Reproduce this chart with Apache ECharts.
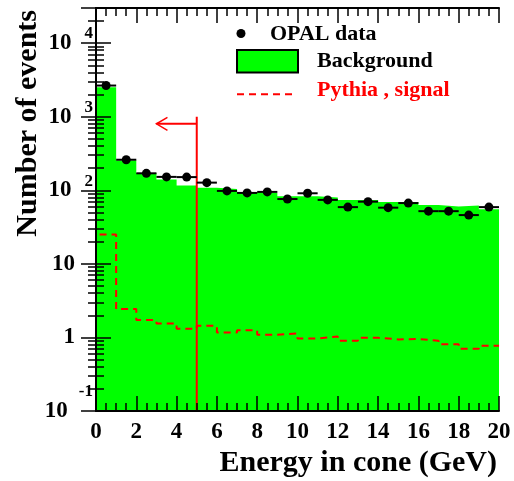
<!DOCTYPE html>
<html>
<head>
<meta charset="utf-8">
<script src="https://cdn.jsdelivr.net/npm/echarts@6/dist/echarts.min.js"></script>
<style>
html, body { margin: 0; padding: 0; background: #fff; }
#chart { width: 514px; height: 481px; }
</style>
</head>
<body>
<div id="chart"></div>
<script>
var mychart = echarts.init(document.getElementById('chart'));

// bin edges of the energy histogram (GeV)
var binEdges = [0, 1, 2, 3, 4, 5, 6, 7, 8, 9, 10, 11, 12, 13, 14, 15, 16, 17, 18, 19, 20];
// events per bin
var opalData = [2650, 260, 170, 152, 151, 127, 98, 92, 95, 76, 91, 74, 59, 70, 58, 67, 52, 52, 46, 59];
var background = [2520, 254, 172, 140, 116, 108, 104, 95, 92, 83, 83, 80, 74, 74, 69, 69, 63, 60, 62, 55];
var pythiaSignal = [25, 2.43, 1.72, 1.55, 1.31, 1.44, 1.17, 1.25, 1.09, 1.13, 0.97, 1.03, 0.90, 0.99, 0.94, 0.95, 0.90, 0.81, 0.70, 0.77];
// cut at 5 GeV, arrow pointing to the kept region
var cutEnergy = 5;
var cutLineTop = 1000;
var arrowEnd = 3;
var arrowLevel = 800;

var yMin = 0.1, yMax = 30000;
var font = "'Liberation Serif', 'Times New Roman', serif";

function stepPoints(vals, startFromMin) {
    var pts = [];
    if (startFromMin) pts.push([binEdges[0], yMin]);
    vals.forEach(function (v, i) { pts.push([binEdges[i], v]); });
    pts.push([binEdges[vals.length], vals[vals.length - 1]]);
    return pts;
}

var dataPoints = opalData.map(function (v, i) {
    return [(binEdges[i] + binEdges[i + 1]) / 2, v, binEdges[i], binEdges[i + 1]];
});

function yLabel(v) {
    var l = Math.log10(v);
    var e = Math.round(l);
    if (Math.abs(l - e) > 1e-6) return '';
    if (e === 0) return '{p|1}';
    if (e === 1) return '{p|10}';
    if (e < 0) return '{b|10}{n|' + e + '}';
    return '{b|10}{s|' + e + '}';
}

var tickLine = { color: '#000', width: 1.5 };

option = {
    backgroundColor: '#fff',
    animation: false,
    textStyle: { fontFamily: font, fontWeight: 'bold', color: '#000' },
    grid: { left: 96, right: 15, top: 8, height: 403 },
    xAxis: [
        {
            type: 'value', min: 0, max: 20, interval: 2, z: 5,
            axisLine: { lineStyle: { color: '#000', width: 2 } },
            axisTick: { inside: true, length: 15, lineStyle: tickLine },
            minorTick: { show: true, splitNumber: 4, length: 8, lineStyle: tickLine },
            splitLine: { show: false },
            axisLabel: { fontSize: 23, fontWeight: 'bold', fontFamily: font, color: '#000', margin: 10 },
            name: 'Energy in cone (GeV)',
            nameLocation: 'end',
            nameGap: -2,
            nameTextStyle: { fontSize: 30, fontWeight: 'bold', fontFamily: font, color: '#000',
                align: 'right', verticalAlign: 'top', padding: [37, 0, 0, 0] }
        },
        {
            type: 'value', position: 'top', min: 0, max: 20, interval: 2, z: 5,
            axisLine: { lineStyle: { color: '#000', width: 2 } },
            axisTick: { inside: true, length: 15, lineStyle: tickLine },
            minorTick: { show: true, splitNumber: 4, length: 8, lineStyle: tickLine },
            splitLine: { show: false },
            axisLabel: { show: false }
        }
    ],
    yAxis: [
        {
            type: 'log', logBase: 10, min: yMin, max: yMax, z: 5,
            axisLine: { show: true, lineStyle: { color: '#000', width: 2 } },
            axisTick: { show: true, inside: true, length: 15, lineStyle: tickLine },
            minorTick: { show: true, splitNumber: 9, length: 8, lineStyle: tickLine },
            splitLine: { show: false },
            axisLabel: {
                margin: 3,
                formatter: yLabel,
                rich: {
                    p: { fontSize: 23, fontWeight: 'bold', fontFamily: font, color: '#000', padding: [0, 18, 0, 0] },
                    b: { fontSize: 23, fontWeight: 'bold', fontFamily: font, color: '#000' },
                    s: { fontSize: 17, fontWeight: 'bold', fontFamily: font, color: '#000', padding: [0, 0, 18, 13] },
                    n: { fontSize: 17, fontWeight: 'bold', fontFamily: font, color: '#000', padding: [0, 0, 38, 11] }
                }
            },
            name: 'Number of events',
            nameLocation: 'end',
            nameRotate: 90,
            nameGap: -2,
            nameTextStyle: { fontSize: 30, fontWeight: 'bold', fontFamily: font, color: '#000',
                align: 'right', verticalAlign: 'bottom', padding: [0, 0, 53, 0] }
        },
        {
            type: 'log', logBase: 10, min: yMin, max: yMax, position: 'right', z: 5,
            axisLine: { show: true, lineStyle: { color: '#000', width: 2 } },
            axisTick: { show: true, inside: true, length: 15, lineStyle: tickLine },
            minorTick: { show: true, splitNumber: 9, length: 8, lineStyle: tickLine },
            splitLine: { show: false },
            axisLabel: { show: false }
        }
    ],
    series: [
        {
            name: 'Background',
            type: 'line',
            step: 'end',
            symbol: 'none',
            data: stepPoints(background, false),
            lineStyle: { width: 0 },
            areaStyle: { color: '#00ff00', opacity: 1, origin: 'start' },
            z: 1
        },
        {
            name: 'Pythia , signal',
            type: 'line',
            step: 'end',
            symbol: 'none',
            data: stepPoints(pythiaSignal, true),
            lineStyle: { color: '#ff0000', width: 2, type: [7, 5] },
            z: 2
        },
        {
            name: 'cut',
            type: 'custom',
            data: [[cutEnergy, cutLineTop, arrowEnd, arrowLevel]],
            renderItem: function (params, api) {
                var bottom = api.coord([api.value(0), yMin]);
                var top = api.coord([api.value(0), api.value(1)]);
                var a0 = api.coord([api.value(0), api.value(3)]);
                var a1 = api.coord([api.value(2), api.value(3)]);
                var st = { stroke: '#ff0000', lineWidth: 2, fill: null };
                return {
                    type: 'group',
                    children: [
                        { type: 'line', shape: { x1: bottom[0], y1: bottom[1], x2: top[0], y2: top[1] }, style: st },
                        { type: 'line', shape: { x1: a0[0], y1: a0[1], x2: a1[0], y2: a1[1] }, style: st },
                        { type: 'polyline', shape: { points: [[a1[0] + 11, a1[1] - 6.5], [a1[0], a1[1]], [a1[0] + 11, a1[1] + 6.5]] },
                          style: { stroke: '#ff0000', lineWidth: 1.5, fill: null } }
                    ]
                };
            },
            z: 3
        },
        {
            name: 'bins',
            type: 'custom',
            data: dataPoints,
            renderItem: function (params, api) {
                var p0 = api.coord([api.value(2), api.value(1)]);
                var p1 = api.coord([api.value(3), api.value(1)]);
                return { type: 'line', shape: { x1: p0[0], y1: p0[1], x2: p1[0], y2: p1[1] },
                         style: { stroke: '#000', lineWidth: 2 } };
            },
            z: 4
        },
        {
            name: 'OPAL data',
            type: 'scatter',
            symbol: 'circle',
            symbolSize: 9,
            data: dataPoints.map(function (d) { return [d[0], d[1]]; }),
            itemStyle: { color: '#000', opacity: 1 },
            z: 5
        }
    ],
    graphic: [
        { type: 'circle', shape: { cx: 241, cy: 33.5, r: 4.5 }, style: { fill: '#000' } },
        { type: 'text', x: 270, y: 34, style: { text: 'OPAL data', font: 'bold 22px ' + font, fill: '#000', verticalAlign: 'middle' } },
        { type: 'rect', shape: { x: 237, y: 50, width: 61, height: 22.5 }, style: { fill: '#00ff00', stroke: '#000', lineWidth: 2 } },
        { type: 'text', x: 317, y: 61.5, style: { text: 'Background', font: 'bold 22px ' + font, fill: '#000', verticalAlign: 'middle' } },
        { type: 'line', shape: { x1: 237, y1: 94.3, x2: 292, y2: 94.3 }, style: { stroke: '#ff0000', lineWidth: 2, lineDash: [7, 5] } },
        { type: 'text', x: 317, y: 90.5, style: { text: 'Pythia , signal', font: 'bold 22px ' + font, fill: '#ff0000', verticalAlign: 'middle' } }
    ]
};
mychart.setOption(option, true);
</script>
</body>
</html>
